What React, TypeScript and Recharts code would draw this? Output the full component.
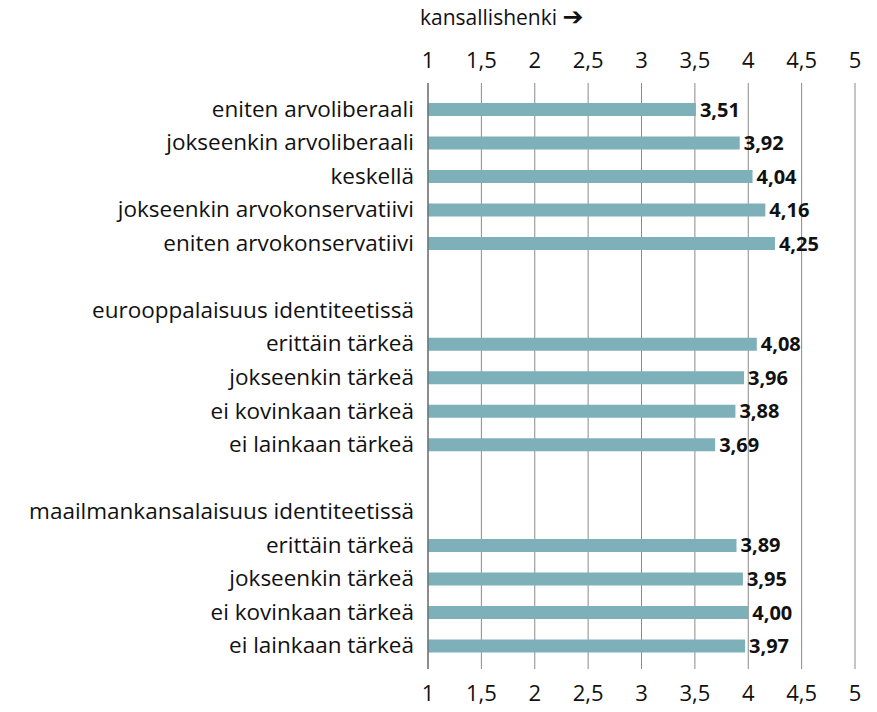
import React from 'react'
import { ComposedChart, Bar, Line, XAxis, YAxis, CartesianGrid, LabelList } from 'recharts'

// rivit ylhäältä alas, tyhjät välirivit null-arvoilla
const categories = [
  'eniten arvoliberaali',
  'jokseenkin arvoliberaali',
  'keskellä',
  'jokseenkin arvokonservatiivi',
  'eniten arvokonservatiivi',
  '',
  'eurooppalaisuus identiteetissä',
  'erittäin tärkeä',
  'jokseenkin tärkeä',
  'ei kovinkaan tärkeä',
  'ei lainkaan tärkeä',
  '',
  'maailmankansalaisuus identiteetissä',
  'erittäin tärkeä',
  'jokseenkin tärkeä',
  'ei kovinkaan tärkeä',
  'ei lainkaan tärkeä'
]

const values: (number | null)[] = [
  3.51, 3.92, 4.04, 4.16, 4.25,
  null,
  null, 4.08, 3.96, 3.88, 3.69,
  null,
  null, 3.89, 3.95, 4.0, 3.97
]

const ticks = [1, 1.5, 2, 2.5, 3, 3.5, 4, 4.5, 5]

const data = categories.map((name, i) => ({ key: `r${i}`, name, value: values[i] }))

const FONT = '"Open Sans", Lato, sans-serif'
const BAR = '#7db0b8'

const fmtTick = (v: number) => String(v).replace('.', ',')
const fmtValue = (v: any) => (v == null ? '' : Number(v).toFixed(2).replace('.', ','))

const CategoryTick = (props: any) => {
  const { x, y, payload } = props
  const label = categories[payload.index] ?? ''
  return (
    <text x={x - 6} y={y} dy={7} textAnchor="end" fontSize={22.5} fill="#111" fontFamily={FONT}>
      {label}
    </text>
  )
}

export default function App() {
  if (typeof document !== 'undefined') document.body.style.margin = '0'

  return (
    <div style={{ position: 'relative', width: 877, height: 712, background: '#fff', fontFamily: FONT }}>
      <div
        style={{
          position: 'absolute',
          left: 420,
          top: 2,
          fontSize: 21,
          color: '#111',
          fontFamily: FONT
        }}
      >
        kansallishenki <span style={{ fontFamily: '"DejaVu Sans", sans-serif', fontWeight: 'bold', fontSize: 25 }}>➔</span>
      </div>
      <ComposedChart
        width={877}
        height={712}
        data={data}
        layout="vertical"
        margin={{ top: 43, right: 22, bottom: 3, left: 0 }}
        barCategoryGap={10}
      >
        <CartesianGrid horizontal={false} stroke="#8a8a8a" strokeWidth={1} xAxisId="bottom" />
        <XAxis
          xAxisId="top"
          orientation="top"
          type="number"
          domain={[1, 5]}
          ticks={ticks}
          tickFormatter={fmtTick}
          axisLine={false}
          tickLine={false}
          tickMargin={9}
          height={40}
          tick={{ fontSize: 22, fill: '#111', fontFamily: FONT }}
        />
        <XAxis
          xAxisId="bottom"
          orientation="bottom"
          type="number"
          domain={[1, 5]}
          ticks={ticks}
          tickFormatter={fmtTick}
          axisLine={false}
          tickLine={false}
          tickMargin={10}
          height={40}
          tick={{ fontSize: 22, fill: '#111', fontFamily: FONT }}
        />
        <YAxis
          type="category"
          dataKey="key"
          width={428}
          interval={0}
          axisLine={{ stroke: '#555' }}
          tickLine={false}
          padding={{ top: 10, bottom: 6 }}
          tick={<CategoryTick />}
        />
        <Bar dataKey="value" xAxisId="bottom" fill={BAR} barSize={13} isAnimationActive={false}>
          <LabelList
            dataKey="value"
            position="right"
            offset={4}
            formatter={fmtValue}
            style={{ fontSize: 20, fontWeight: 'bold', fill: '#111', fontFamily: FONT }}
          />
        </Bar>
        {/* näkymätön sarja, jotta yläakseli piirtyy */}
        <Line
          xAxisId="top"
          dataKey="value"
          stroke="none"
          dot={false}
          activeDot={false}
          legendType="none"
          isAnimationActive={false}
        />
      </ComposedChart>
    </div>
  )
}
